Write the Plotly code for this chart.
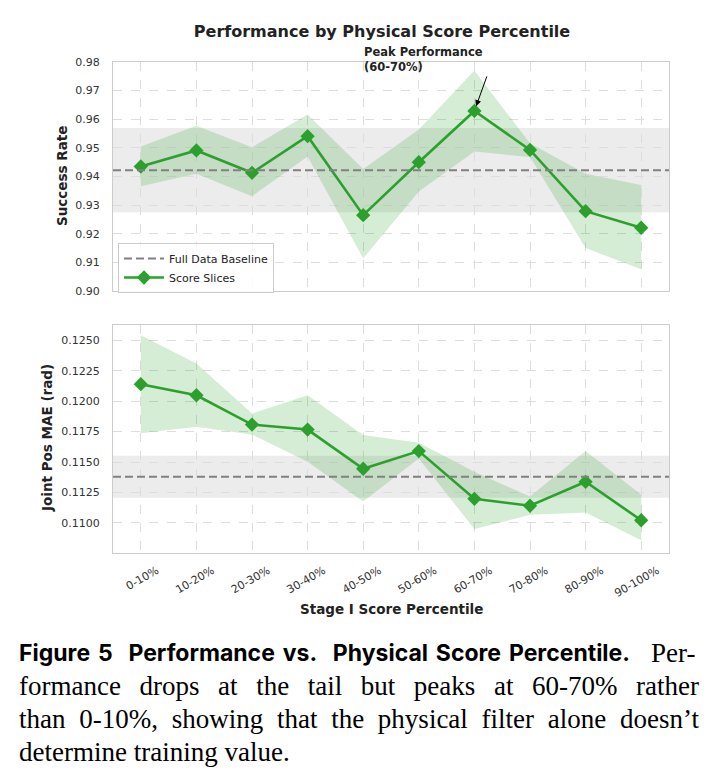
import plotly.graph_objects as go

categories = ["0-10%", "10-20%", "20-30%", "30-40%", "40-50%",
              "50-60%", "60-70%", "70-80%", "80-90%", "90-100%"]

success = [0.9435, 0.9491, 0.9413, 0.9541, 0.9265, 0.9450, 0.9629, 0.9493, 0.9279, 0.9221]
success_hi = [0.9505, 0.9577, 0.9502, 0.9617, 0.9426, 0.9564, 0.9770, 0.9516, 0.9410, 0.9370]
success_lo = [0.9366, 0.9410, 0.9331, 0.9470, 0.9114, 0.9348, 0.9487, 0.9468, 0.9150, 0.9076]
success_base = 0.9422
success_base_std = 0.0147

mae = [0.12140, 0.12049, 0.11808, 0.11767, 0.11445, 0.11590, 0.11198, 0.11141, 0.11338, 0.11022]
mae_hi = [0.12541, 0.12310, 0.11899, 0.12049, 0.11722, 0.11659, 0.11420, 0.11217, 0.11590, 0.11231]
mae_lo = [0.11737, 0.11790, 0.11726, 0.11502, 0.11176, 0.11530, 0.10950, 0.11067, 0.11085, 0.10857]
mae_base = 0.11379
mae_base_std = 0.00173

success_ticks = [0.90, 0.91, 0.92, 0.93, 0.94, 0.95, 0.96, 0.97, 0.98]
mae_ticks = [0.1100, 0.1125, 0.1150, 0.1175, 0.1200, 0.1225, 0.1250]

caption_head = "Figure 5\u00a0\u00a0Performance vs.\u00a0\u00a0Physical Score Percentile."
caption_lines = [
    "formance drops at the tail but peaks at 60-70% rather",
    "than 0-10%, showing that the physical filter alone doesn\u2019t",
    "determine training value.",
]

GREEN = "#2ca02c"
FILL = "rgba(44,160,44,0.2)"
FONT = "DejaVu Sans"
SERIF = "Liberation Serif"
W, H = 713, 781
L, R, T, B = 113, 44, 62, 228
PH = H - T - B


def py(pix):
    return (H - B - pix) / PH


def px(pix):
    return (pix - L) / (W - L - R)


fig = go.Figure()

# legend-only entry for baseline
fig.add_trace(go.Scatter(x=[None], y=[None], mode="lines", name="Full Data Baseline",
                         line=dict(color="gray", width=2, dash="8px,4px"),
                         xaxis="x", yaxis="y"))

for (ya, xa, lo, hi, val, show) in [("y", "x", success_lo, success_hi, success, True),
                                    ("y2", "x2", mae_lo, mae_hi, mae, False)]:
    fig.add_trace(go.Scatter(x=categories, y=hi, mode="lines", line=dict(width=0),
                             showlegend=False, hoverinfo="skip", xaxis=xa, yaxis=ya))
    fig.add_trace(go.Scatter(x=categories, y=lo, mode="lines", line=dict(width=0),
                             fill="tonexty", fillcolor=FILL, showlegend=False,
                             hoverinfo="skip", xaxis=xa, yaxis=ya))
    fig.add_trace(go.Scatter(x=categories, y=val, mode="lines+markers", name="Score Slices",
                             line=dict(color=GREEN, width=2.6),
                             marker=dict(symbol="diamond", size=11, color=GREEN),
                             showlegend=show, xaxis=xa, yaxis=ya))

for (yref, base, std) in [("y", success_base, success_base_std), ("y2", mae_base, mae_base_std)]:
    xr = "x domain" if yref == "y" else "x2 domain"
    fig.add_shape(type="rect", xref=xr, yref=yref, x0=0, x1=1, y0=base - std, y1=base + std,
                  fillcolor="rgba(128,128,128,0.15)", line=dict(width=0), layer="below")
    fig.add_shape(type="line", xref=xr, yref=yref, x0=0, x1=1, y0=base, y1=base,
                  line=dict(color="gray", width=2, dash="8px,4px"))

axis_common = dict(showline=True, linecolor="#cccccc", linewidth=1.2, mirror=True,
                   showgrid=True, gridcolor="#dddddd", griddash="dash", gridwidth=0.8,
                   zeroline=False, ticks="", tickfont=dict(family=FONT, size=11, color="#333333"))

fig.update_layout(
    width=W, height=H,
    margin=dict(l=L, r=R, t=T, b=B),
    paper_bgcolor="white", plot_bgcolor="white",
    font=dict(family=FONT, color="#333333"),
    showlegend=True,
    legend=dict(x=px(118), y=py(243), xanchor="left", yanchor="top", traceorder="normal",
                bgcolor="rgba(255,255,255,0.85)", bordercolor="#cccccc", borderwidth=1,
                font=dict(family=FONT, size=11, color="#222222"),
                tracegroupgap=0, itemwidth=40),
    xaxis=dict(axis_common, domain=[0, 1], anchor="y", range=[-0.5, 9.5],
               type="category", showticklabels=False),
    yaxis=dict(axis_common, domain=[py(291), 1], anchor="x", range=[0.90, 0.98],
               tickvals=success_ticks, tickformat=".2f", ticklabelstandoff=10),
    xaxis2=dict(axis_common, domain=[0, 1], anchor="y2", range=[-0.5, 9.5],
                type="category", tickangle=-30, ticklabelstandoff=6, ticklabelshift=16),
    yaxis2=dict(axis_common, domain=[0, py(325)], anchor="x2", range=[0.10753, 0.12626],
                tickvals=mae_ticks, tickformat=".4f", ticklabelstandoff=10),
    title=dict(text="<b>Performance by Physical Score Percentile</b>",
               x=382 / W, xanchor="center", y=1 - 31 / H, yanchor="middle",
               font=dict(family=FONT, size=16, color="#222222")),
)

ann = []
ann.append(dict(text="<b>Success Rate</b>", xref="paper", yref="paper", x=px(62), y=py(176),
                xanchor="center", yanchor="middle", textangle=-90, showarrow=False,
                font=dict(family=FONT, size=13.5, color="#222222")))
ann.append(dict(text="<b>Joint Pos MAE (rad)</b>", xref="paper", yref="paper", x=px(47), y=py(438),
                xanchor="center", yanchor="middle", textangle=-90, showarrow=False,
                font=dict(family=FONT, size=13.5, color="#222222")))
ann.append(dict(text="<b>Stage I Score Percentile</b>", xref="paper", yref="paper", x=px(391),
                y=py(609), xanchor="center", yanchor="middle", showarrow=False,
                font=dict(family=FONT, size=13.5, color="#222222")))
ann.append(dict(text="<b>Peak Performance<br>(60-70%)</b>", xref="paper", yref="paper",
                x=px(362), y=py(43), xanchor="left", yanchor="top", align="left",
                showarrow=False, font=dict(family=FONT, size=11.5, color="#222222")))
peak_i = success.index(max(success))
ann.append(dict(text="", xref="x", yref="y", x=categories[peak_i], y=success[peak_i],
                ax=13, ay=-36, showarrow=True, arrowhead=2, arrowsize=1.2, arrowwidth=1,
                arrowcolor="black", standoff=5))

# caption
ann.append(dict(text="<b>" + caption_head + "</b>",
                xref="paper", yref="paper", x=px(17), y=py(653), xanchor="left", align="left",
                yanchor="middle", showarrow=False,
                font=dict(family="Inter", size=23, color="black")))
ann.append(dict(text="Per-", xref="paper", yref="paper", x=px(697), y=py(653), xanchor="right",
                yanchor="middle", showarrow=False,
                font=dict(family=SERIF, size=27, color="black")))
for i, line in enumerate(caption_lines):
    ann.append(dict(text=line, xref="paper", yref="paper", x=px(17), y=py(686 + 33 * i),
                    xanchor="left", align="left", yanchor="middle", showarrow=False,
                    font=dict(family=SERIF, size=27, color="black")))
fig.update_layout(annotations=ann)

justify_js = """
var gd = document.getElementById('{plot_id}');
var targets = [['formance drops', 680], ['than 0-10%', 680], ['Figure 5', 611]];
gd.querySelectorAll('text.annotation-text').forEach(function(t){
  var s = t.textContent;
  targets.forEach(function(tg){
    if (s.indexOf(tg[0]) === 0) {
      var w = t.getComputedTextLength();
      var n = (s.match(/[ \\u00a0]/g) || []).length;
      if (n > 0 && w > 0) { t.style.wordSpacing = ((tg[1] - w) / n) + 'px'; }
    }
  });
});
"""

fig.write_html("out.html", post_script=justify_js)
